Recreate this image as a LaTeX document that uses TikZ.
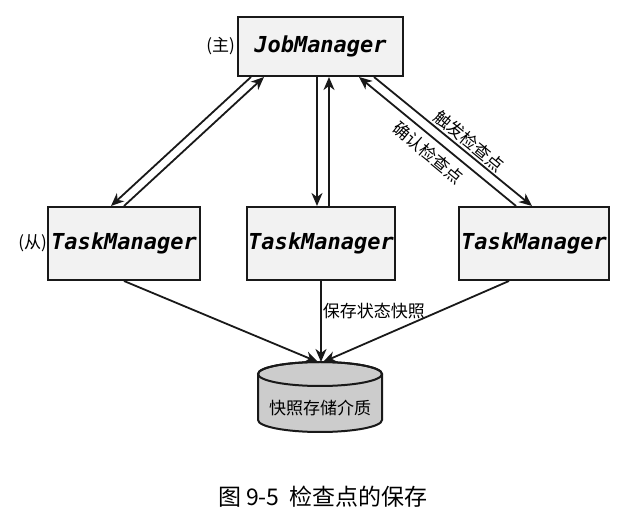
\documentclass[tikz,border=0pt]{standalone}
\usepackage{fontspec}
\setmainfont{Noto Sans CJK SC}
\newfontfamily\monofont{DejaVu Sans Mono}
\usepackage{xcolor}
\definecolor{BoxFill}{RGB}{242,242,242}
\definecolor{DiskFill}{RGB}{204,204,204}
\definecolor{Ink}{RGB}{25,25,25}
\usepackage{tikz}
\usetikzlibrary{arrows.meta}
\tikzstyle{Manager}=[rectangle,draw=Ink,fill=BoxFill,line width=2pt,
inner sep=0pt,font=\monofont\bfseries\itshape\fontsize{22}{26}\selectfont]
\tikzstyle{Disk}=[draw=Ink,fill=DiskFill,line width=2pt]
\tikzstyle{Edge}=[draw=Ink,line width=1.8pt,
>={Stealth[length=13pt,width=11pt,inset=4pt]}]
\tikzstyle{Label}=[font=\fontsize{17}{20}\selectfont,inner sep=2pt]
\tikzstyle{Side}=[font=\fontsize{17}{20}\selectfont,inner sep=0pt]

\begin{document}
\begin{tikzpicture}[x=1pt,y=1pt]
        \useasboundingbox(0,0)rectangle(636,524);
        \node[Manager,minimum width=165pt,minimum height=59pt,
            label={[Side,label distance=2pt]left:(主)}](JM)at(320.5,477.5)
            {JobManager};
        \node[Manager,minimum width=152pt,minimum height=73pt,
            label={[Side,label distance=0pt]left:(从)}](TM1)at(124,280.5)
            {TaskManager};
        \node[Manager,minimum width=148pt,minimum height=73pt](TM2)
            at(321,280.5){TaskManager};
        \node[Manager,minimum width=150pt,minimum height=73pt](TM3)
            at(534,280.5){TaskManager};
        \path[Disk](258,150)--(258,104)
            arc[start angle=180,end angle=360,x radius=62,y radius=12]
            --(382,150)arc[start angle=0,end angle=180,x radius=62,y radius=12]
            --cycle;
        \draw[Disk,fill=none](320,150)ellipse[x radius=62,y radius=12];
        \coordinate(DBtop)at(320,162);
        \node[Label](DB)at(320,116){快照存储介质};
        \draw[Edge,->]([xshift=14pt]JM.south west)--([xshift=64pt]TM1.north west);
        \draw[Edge,<-]([xshift=27pt]JM.south west)--([xshift=77pt]TM1.north west);
        \draw[Edge,->]([xshift=80pt]JM.south west)--([xshift=71pt]TM2.north west);
        \draw[Edge,<-]([xshift=92pt]JM.south west)--([xshift=83pt]TM2.north west);
        \draw[Edge,->]([xshift=137pt]JM.south west)
            --node[Label,sloped,above,pos=0.56]{触发检查点}
            ([xshift=74pt]TM3.north west);
        \draw[Edge,<-]([xshift=122pt]JM.south west)
            --node[Label,sloped,below,pos=0.5,inner sep=6pt]{确认检查点}
            ([xshift=58pt]TM3.north west);
        \draw[Edge,->]([xshift=77pt]TM1.south west)--([xshift=-2pt]DBtop);
        \draw[Edge,->](TM2.south)
            --node[Label,right,pos=0.37,inner sep=1pt]{保存状态快照}
            (TM2.south|-DBtop);
        \draw[Edge,->]([xshift=51pt]TM3.south west)--([xshift=3pt]DBtop);
        \node[font=\fontsize{23}{27}\selectfont](cap)at(323,27)
            {图 9-5\ \ 检查点的保存};
    \end{tikzpicture}
\end{document}
